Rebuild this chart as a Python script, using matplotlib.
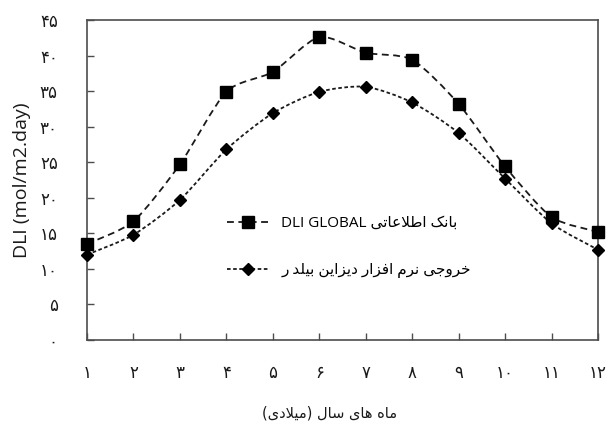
import numpy as np
import matplotlib.pyplot as plt
from matplotlib.path import Path
from matplotlib.patches import PathPatch
from matplotlib.lines import Line2D

plt.rcParams['font.family'] = ['DejaVu Sans']

# data
months = [1, 2, 3, 4, 5, 6, 7, 8, 9, 10, 11, 12]
month_labels = ['۱', '۲', '۳', '۴', '۵', '۶', '۷', '۸', '۹', '۱۰', '۱۱', '۱۲']
dli_global = [13.5, 16.7, 24.7, 34.9, 37.7, 42.6, 40.4, 39.4, 33.2, 24.4, 17.3, 15.2]
design_builder = [12.0, 14.8, 19.7, 26.8, 31.9, 34.9, 35.6, 33.4, 29.1, 22.7, 16.4, 12.7]
y_ticks = [0, 5, 10, 15, 20, 25, 30, 35, 40, 45]
y_tick_labels = ['۰', '۵', '۱۰', '۱۵', '۲۰', '۲۵', '۳۰', '۳۵', '۴۰', '۴۵']

label_global = 'بانک اطلاعاتی'
label_db = 'خروجی نرم افزار دیزاین بیلد ر'
x_title = 'ماه های سال (میلادی)'
y_title = 'DLI (mol/m2.day)'

# minimal arabic/persian shaping (matplotlib has no bidi / joining)
FORMS = {
    'ا': ('\uFE8D', '\uFE8E', None, None),
    'ب': ('\uFE8F', '\uFE90', '\uFE91', '\uFE92'),
    'ت': ('\uFE95', '\uFE96', '\uFE97', '\uFE98'),
    'ج': ('\uFE9D', '\uFE9E', '\uFE9F', '\uFEA0'),
    'خ': ('\uFEA5', '\uFEA6', '\uFEA7', '\uFEA8'),
    'د': ('\uFEA9', '\uFEAA', None, None),
    'ر': ('\uFEAD', '\uFEAE', None, None),
    'ز': ('\uFEAF', '\uFEB0', None, None),
    'س': ('\uFEB1', '\uFEB2', '\uFEB3', '\uFEB4'),
    'ط': ('\uFEC1', '\uFEC2', '\uFEC3', '\uFEC4'),
    'ع': ('\uFEC9', '\uFECA', '\uFECB', '\uFECC'),
    'ف': ('\uFED1', '\uFED2', '\uFED3', '\uFED4'),
    'ل': ('\uFEDD', '\uFEDE', '\uFEDF', '\uFEE0'),
    'م': ('\uFEE1', '\uFEE2', '\uFEE3', '\uFEE4'),
    'ن': ('\uFEE5', '\uFEE6', '\uFEE7', '\uFEE8'),
    'ه': ('\uFEE9', '\uFEEA', '\uFEEB', '\uFEEC'),
    'و': ('\uFEED', '\uFEEE', None, None),
    'ی': ('\uFBFC', '\uFBFD', '\uFBFE', '\uFBFF'),
    'ک': ('\uFB8E', '\uFB8F', '\uFB90', '\uFB91'),
}
MIRROR = {'(': ')', ')': '('}


def shape(s):
    out = []
    i = 0
    while i < len(s):
        c = s[i]
        if c not in FORMS:
            out.append(c)
            i += 1
            continue
        prev = s[i - 1] if i > 0 else None
        joins_prev = prev in FORMS and FORMS[prev][2] is not None
        if c == 'ل' and i + 1 < len(s) and s[i + 1] == 'ا':
            out.append('\uFEFC' if joins_prev else '\uFEFB')
            i += 2
            continue
        nxt = s[i + 1] if i + 1 < len(s) else None
        joins_next = FORMS[c][2] is not None and nxt in FORMS
        iso, fin, ini, med = FORMS[c]
        if joins_prev and joins_next:
            out.append(med)
        elif joins_prev:
            out.append(fin)
        elif joins_next:
            out.append(ini)
        else:
            out.append(iso)
        i += 1
    return out


def rtl(s):
    return ''.join(MIRROR.get(c, c) for c in reversed(shape(s)))


def smooth_path(xs, ys, k=8):
    # excel style smoothed line: cubic bezier through the points
    p = np.column_stack([xs, ys]).astype(float)
    ext = np.vstack([p[0], p, p[-1]])
    verts = [p[0]]
    codes = [Path.MOVETO]
    for i in range(len(p) - 1):
        p0, p1, p2, p3 = ext[i], ext[i + 1], ext[i + 2], ext[i + 3]
        verts += [p1 + (p2 - p0) / k, p2 - (p3 - p1) / k, p2]
        codes += [Path.CURVE4] * 3
    return Path(verts, codes)


fig = plt.figure(figsize=(6.1, 4.23), dpi=100)
ax = fig.add_axes([87 / 610, 1 - 340 / 423, 511 / 610, 320 / 423])

line_col = '#1a1a1a'
dash_global = (0, (3.8, 2.5))
dash_db = (0, (2.0, 1.4))

ax.add_patch(PathPatch(smooth_path(months, dli_global), fill=False,
                       ec=line_col, lw=1.3, ls=dash_global, zorder=2))
ax.add_patch(PathPatch(smooth_path(months, design_builder), fill=False,
                       ec=line_col, lw=1.3, ls=dash_db, zorder=2))
ax.plot(months, dli_global, ls='none', marker='s', ms=8, color='black',
        zorder=3, clip_on=False)
ax.plot(months, design_builder, ls='none', marker='D', ms=5.8, color='black',
        zorder=3, clip_on=False)

ax.set_xlim(1, 12)
ax.set_ylim(0, 45)
ax.set_xticks(months, month_labels)
ax.set_yticks(y_ticks, y_tick_labels)
ax.tick_params(direction='in', length=5, width=1, color='#4d4d4d',
               labelsize=12, labelcolor='#1a1a1a')
ax.tick_params(axis='y', pad=21)
ax.tick_params(axis='x', pad=17)
for sp in ax.spines.values():
    sp.set_color('#4d4d4d')
    sp.set_linewidth(1.2)

ax.set_ylabel(y_title, fontsize=14, family=['Open Sans', 'DejaVu Sans'],
              va='center', color='#1a1a1a')
ax.yaxis.set_label_coords(-0.128, 0.5)
ax.set_xlabel(rtl(x_title), fontsize=10.5, va='center', color='#1a1a1a')
ax.xaxis.set_label_coords((330 - 87) / 511, (340 - 413) / 320)

handles = [
    Line2D([], [], color=line_col, lw=1.3, ls=dash_global, marker='s', ms=8,
           mfc='black', mec='black'),
    Line2D([], [], color=line_col, lw=1.3, ls=dash_db, marker='D', ms=5.8,
           mfc='black', mec='black'),
]
labels = ['DLI GLOBAL ' + rtl(label_global), rtl(label_db)]
ax.legend(handles, labels, loc='center left', numpoints=1,
          bbox_to_anchor=(227 / 610, 1 - 247 / 423), bbox_transform=fig.transFigure,
          frameon=False, borderpad=0, borderaxespad=0, handlelength=2.8,
          handletextpad=0.75, labelspacing=2.1,
          prop={'family': ['Open Sans', 'DejaVu Sans'], 'size': 11})

fig.savefig('out.png', dpi=100)
